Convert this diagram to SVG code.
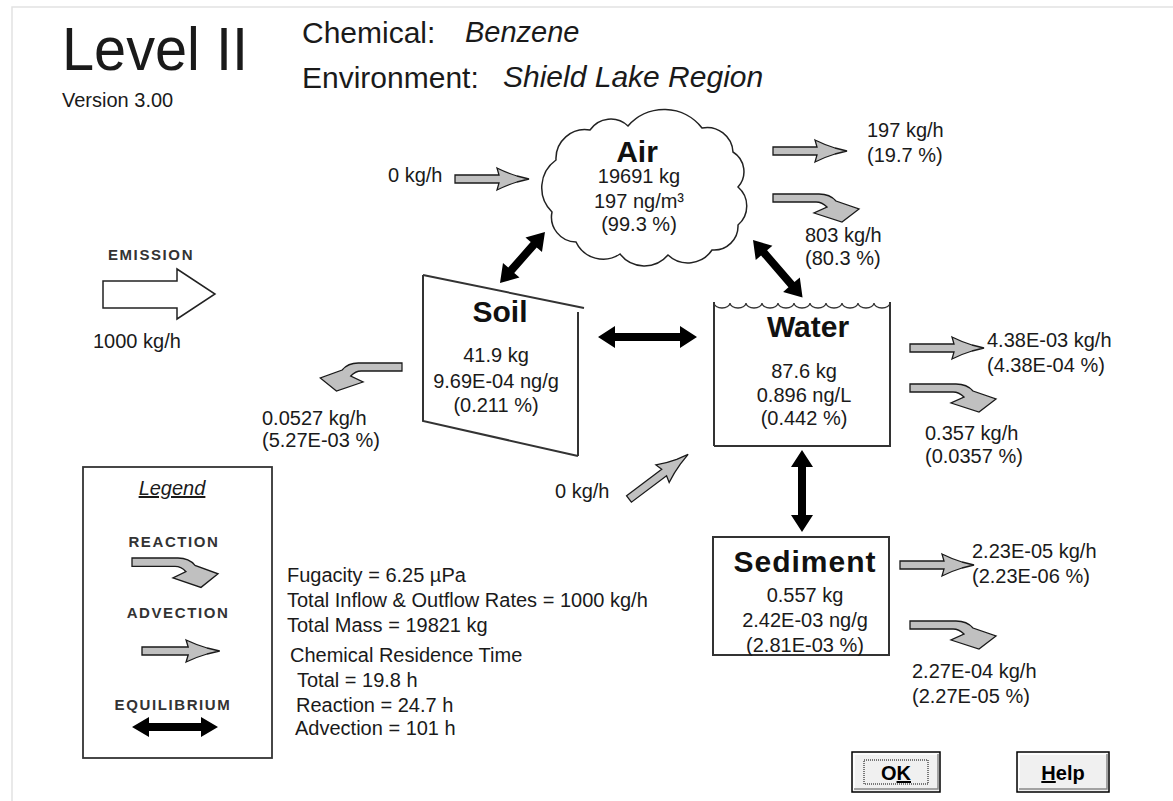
<svg xmlns="http://www.w3.org/2000/svg" width="1173" height="801" viewBox="0 0 1173 801">
<defs>
<style>
text{font-family:"Liberation Sans",Arial,sans-serif;fill:#1a1a1a}
.t{font-size:20px}
.c{text-anchor:middle}
.b{font-size:30px;font-weight:bold;text-anchor:middle;fill:#111}
.lg{font-size:15px;font-weight:bold;letter-spacing:1.6px;fill:#333;text-anchor:middle}
.flow{fill:#c0c0c0;stroke:#1a1a1a;stroke-width:1.3;stroke-linejoin:miter}
.eq{fill:#000}
.box{fill:none;stroke:#333;stroke-width:2}
.btn{font-size:20px;font-weight:bold;text-anchor:middle;fill:#000}
</style>
<path id="adv" d="M0,-4 L44,-4 L42,-11 Q52,-6 62,-3 L74,0 L62,3 Q52,6 42,11 L44,4 L0,4 Z"/>
<path id="rxn" d="M0,0 L46,0 Q57,0 63,7 L86,15 L69,28 L41,19 L54,13 Q49,8 43,8 L0,8 Z"/>
</defs>
<rect x="0" y="0" width="1173" height="801" fill="#fff"/>
<path d="M12,801 L12,7 L1173,7" fill="none" stroke="#e2e2e2" stroke-width="1.5"/>

<g id="header">
<text x="62" y="70" font-size="62" textLength="186" lengthAdjust="spacingAndGlyphs">Level II</text>
<text x="62" y="107" class="t">Version 3.00</text>
<text x="302" y="43" font-size="30">Chemical:</text>
<text x="465" y="42" font-size="29" font-style="italic">Benzene</text>
<text x="302" y="88" font-size="30">Environment:</text>
<text x="503" y="87" font-size="30" font-style="italic">Shield Lake Region</text>
</g>

<g id="air">
<path d="M556,160 A29,29 0 0 1 590,130 A25,25 0 0 1 628,126 A48,48 0 0 1 702,128 A26,26 0 0 1 733,152 A23,23 0 0 1 738,187 A25,25 0 0 1 738,225 A24,24 0 0 1 712,250 A29,29 0 0 1 668,255 A31,31 0 0 1 620,254 A30,30 0 0 1 576,242 A25,25 0 0 1 552,212 A34,34 0 0 1 556,160 Z" fill="#fff" stroke="#222" stroke-width="1.5"/>
<text x="637" y="162" class="b">Air</text>
<text x="639" y="183" class="t c">19691 kg</text>
<text x="639" y="208" class="t c">197 ng/m³</text>
<text x="639" y="231" class="t c">(99.3 %)</text>
</g>

<g id="soil">
<path d="M423,275 L584,308 M578,312 L578,456 M423,275 L423,421 L578,456" fill="none" stroke="#333" stroke-width="2"/>
<text x="500" y="322" class="b">Soil</text>
<text x="496" y="362" class="t c">41.9 kg</text>
<text x="496" y="388" class="t c">9.69E-04 ng/g</text>
<text x="496" y="412" class="t c">(0.211 %)</text>
</g>

<g id="water">
<path d="M714,446 L714,302 M890,302 L890,446 L714,446" fill="none" stroke="#333" stroke-width="2"/>
<path d="M714,303 a8,5 0 0 0 16,0 a8,5 0 0 0 16,0 a8,5 0 0 0 16,0 a8,5 0 0 0 16,0 a8,5 0 0 0 16,0 a8,5 0 0 0 16,0 a8,5 0 0 0 16,0 a8,5 0 0 0 16,0 a8,5 0 0 0 16,0 a8,5 0 0 0 16,0 a8,5 0 0 0 16,0" fill="none" stroke="#333" stroke-width="1.3"/>
<text x="808" y="337" class="b">Water</text>
<text x="804" y="378" class="t c">87.6 kg</text>
<text x="804" y="402" class="t c">0.896 ng/L</text>
<text x="804" y="425" class="t c">(0.442 %)</text>
</g>

<g id="sediment">
<rect x="713" y="537" width="176" height="118" class="box"/>
<text x="805" y="572" class="b" letter-spacing="1">Sediment</text>
<text x="805" y="602" class="t c">0.557 kg</text>
<text x="805" y="627" class="t c">2.42E-03 ng/g</text>
<text x="805" y="652" class="t c">(2.81E-03 %)</text>
</g>

<g id="emission">
<text x="151" y="260" class="lg">EMISSION</text>
<path d="M103,281 L177,281 L177,269 L215,294 L177,319 L177,308 L103,308 Z" fill="#fff" stroke="#222" stroke-width="1.5"/>
<text x="93" y="348" class="t">1000 kg/h</text>
</g>

<g id="connectors">
<path class="eq" transform="translate(500,283) rotate(-48.6)" d="M0,0 L17,-11 L17,-4 L51,-4 L51,-11 L68,0 L51,11 L51,4 L17,4 L17,11 Z"/>
<path class="eq" transform="translate(753,240) rotate(49.3)" d="M0,0 L17,-11 L17,-4 L59,-4 L59,-11 L76,0 L59,11 L59,4 L17,4 L17,11 Z"/>
<path class="eq" transform="translate(598,337)" d="M0,0 L17,-11 L17,-4 L82,-4 L82,-11 L99,0 L82,11 L82,4 L17,4 L17,11 Z"/>
<path class="eq" transform="translate(802,450) rotate(90)" d="M0,0 L17,-11 L17,-4 L65,-4 L65,-11 L82,0 L65,11 L65,4 L17,4 L17,11 Z"/>
<use href="#adv" class="flow" transform="translate(455,179)"/>
<use href="#adv" class="flow" transform="translate(773,151)"/>
<use href="#adv" class="flow" transform="translate(910,348)"/>
<use href="#adv" class="flow" transform="translate(900,565)"/>
<use href="#adv" class="flow" transform="translate(629,499) rotate(-37)"/>
<use href="#rxn" class="flow" transform="translate(773,194)"/>
<use href="#rxn" class="flow" transform="translate(910,384)"/>
<use href="#rxn" class="flow" transform="translate(910,621)"/>
<use href="#rxn" class="flow" transform="translate(402,363) scale(-0.95,1)"/>
</g>

<g id="flow-labels">
<text x="388" y="182" class="t">0 kg/h</text>
<text x="867" y="137" class="t">197 kg/h</text>
<text x="867" y="162" class="t">(19.7 %)</text>
<text x="805" y="242" class="t">803 kg/h</text>
<text x="805" y="265" class="t">(80.3 %)</text>
<text x="987" y="347" class="t">4.38E-03 kg/h</text>
<text x="987" y="372" class="t">(4.38E-04 %)</text>
<text x="925" y="440" class="t">0.357 kg/h</text>
<text x="925" y="463" class="t">(0.0357 %)</text>
<text x="262" y="425" class="t">0.0527 kg/h</text>
<text x="262" y="447" class="t">(5.27E-03 %)</text>
<text x="555" y="498" class="t">0 kg/h</text>
<text x="972" y="558" class="t">2.23E-05 kg/h</text>
<text x="972" y="583" class="t">(2.23E-06 %)</text>
<text x="912" y="678" class="t">2.27E-04 kg/h</text>
<text x="912" y="703" class="t">(2.27E-05 %)</text>
</g>

<g id="legend">
<rect x="83" y="467" width="189" height="291" fill="none" stroke="#333" stroke-width="1.8"/>
<text x="172" y="495" class="t c" font-style="italic" text-decoration="underline">Legend</text>
<text x="174" y="547" class="lg">REACTION</text>
<use href="#rxn" class="flow" transform="translate(132,558) scale(1,1.05)"/>
<text x="178" y="618" class="lg">ADVECTION</text>
<use href="#adv" class="flow" transform="translate(142,651) scale(1.05,1)"/>
<text x="173" y="710" class="lg">EQUILIBRIUM</text>
<path class="eq" transform="translate(132,727)" d="M0,0 L17,-10 L17,-4 L69,-4 L69,-10 L86,0 L69,10 L69,4 L17,4 L17,10 Z"/>
</g>

<g id="summary">
<text x="287" y="582" class="t">Fugacity = 6.25 µPa</text>
<text x="287" y="607" class="t">Total Inflow &amp; Outflow Rates = 1000 kg/h</text>
<text x="287" y="632" class="t">Total Mass = 19821 kg</text>
<text x="290" y="662" class="t">Chemical Residence Time</text>
<text x="297" y="687" class="t">Total = 19.8 h</text>
<text x="296" y="712" class="t">Reaction = 24.7 h</text>
<text x="295" y="735" class="t">Advection = 101 h</text>
</g>

<g id="btn-ok">
<rect x="852" y="752" width="88" height="40" fill="#f0f0f0" stroke="#000" stroke-width="1.5"/>
<path d="M854,790 L854,754 L938,754" fill="none" stroke="#fff" stroke-width="1.5"/>
<path d="M854,789 L938,789 L938,754" fill="none" stroke="#888" stroke-width="1.5"/>
<rect x="864" y="760" width="64" height="24" fill="none" stroke="#000" stroke-width="1" stroke-dasharray="1,1"/>
<text x="896" y="780" class="btn">O<tspan text-decoration="underline">K</tspan></text>
</g>
<g id="btn-help">
<rect x="1017" y="752" width="92" height="40" fill="#f0f0f0" stroke="#000" stroke-width="1.5"/>
<path d="M1019,790 L1019,754 L1107,754" fill="none" stroke="#fff" stroke-width="1.5"/>
<path d="M1019,789 L1107,789 L1107,754" fill="none" stroke="#888" stroke-width="1.5"/>
<text x="1063" y="780" class="btn"><tspan text-decoration="underline">H</tspan>elp</text>
</g>
</svg>
